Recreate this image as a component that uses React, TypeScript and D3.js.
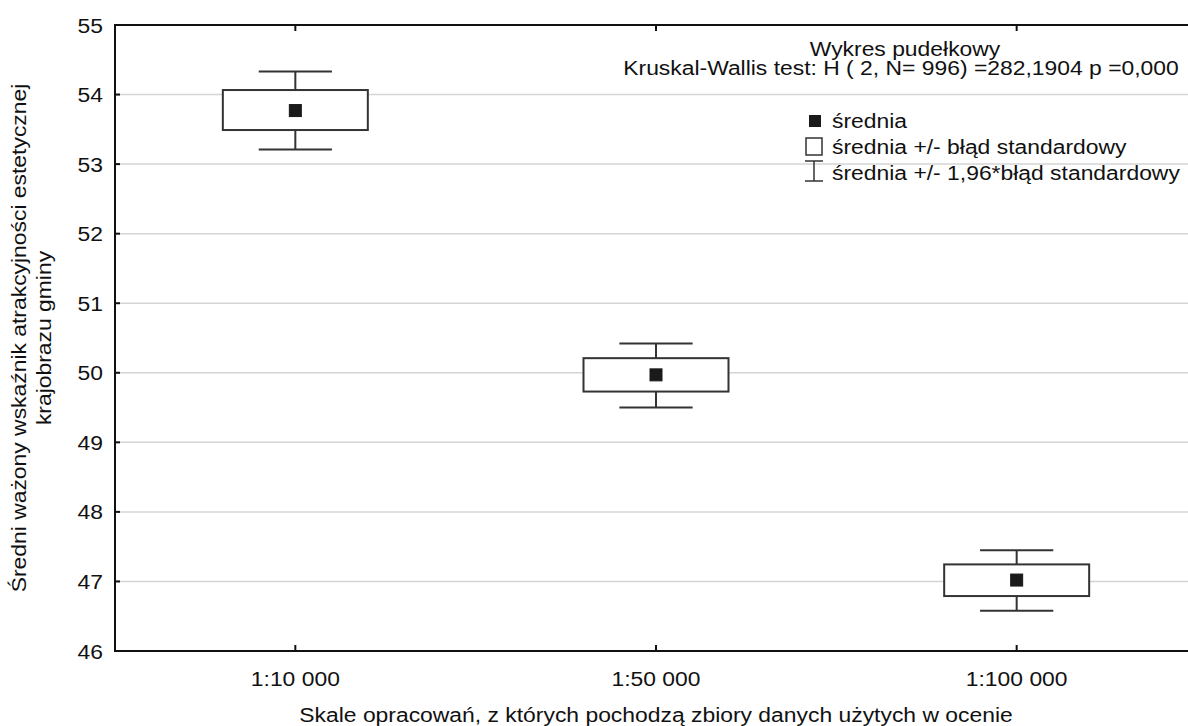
import React from "react";
import * as d3 from "d3";

const categories = ["1:10 000", "1:50 000", "1:100 000"];
const means = [53.77, 49.97, 47.02];
const seLow = [53.49, 49.73, 46.79];
const seHigh = [54.065, 50.21, 47.245];
const ciLow = [53.21, 49.5, 46.58];
const ciHigh = [54.33, 50.42, 47.45];
const yTicks = [46, 47, 48, 49, 50, 51, 52, 53, 54, 55];

const titleLines = ["Wykres pudełkowy", "Kruskal-Wallis test: H ( 2, N= 996) =282,1904 p =0,000"];
const legendItems = ["średnia", "średnia +/- błąd standardowy", "średnia +/- 1,96*błąd standardowy"];
const yTitle = ["Średni ważony wskaźnik atrakcyjności estetycznej", "krajobrazu gminy"];
const xTitle = "Skale opracowań, z których pochodzą zbiory danych użytych w ocenie";

const W = 1188;
const H = 726;
const left = 115;
const right = 1197;
const top = 25;
const bottom = 651;
const FONT = "'Liberation Sans', Arial, sans-serif";
const STROKE = "#333";
const SX = 1.09;
const FS = 21;

function T(props: { x: number; y: number; anchor?: string; children: React.ReactNode }) {
  return (
    <text
      transform={`translate(${props.x},${props.y}) scale(${SX},1)`}
      textAnchor={props.anchor || "start"}
      fontSize={FS}
      fill="#111"
    >
      {props.children}
    </text>
  );
}

export default function App() {
  const x = d3.scaleBand<string>().domain(categories).range([left, right]).padding(0);
  const y = d3.scaleLinear().domain([46, 55]).range([bottom, top]);
  const bw = x.bandwidth();
  const boxW = bw * 0.402;
  const capW = bw * 0.203;
  const cx = (c: string) => (x(c) as number) + bw / 2;

  return (
    <svg width={W} height={H} style={{ position: "absolute", left: 0, top: 0, background: "#fff" }} fontFamily={FONT}>
      <rect x={0} y={0} width={W} height={H} fill="#fff" />
      {yTicks.filter((t) => t > 46 && t < 55).map((t) => (
        <line key={"g" + t} x1={left} x2={W} y1={y(t)} y2={y(t)} stroke="#d4d4d4" strokeWidth={1.5} />
      ))}
      {categories.map((c, i) => {
        const X = cx(c);
        return (
          <g key={c} stroke={STROKE} strokeWidth={2}>
            <line x1={X} x2={X} y1={y(ciHigh[i])} y2={y(seHigh[i])} />
            <line x1={X} x2={X} y1={y(seLow[i])} y2={y(ciLow[i])} />
            <line x1={X - capW / 2} x2={X + capW / 2} y1={y(ciHigh[i])} y2={y(ciHigh[i])} />
            <line x1={X - capW / 2} x2={X + capW / 2} y1={y(ciLow[i])} y2={y(ciLow[i])} />
            <rect x={X - boxW / 2} y={y(seHigh[i])} width={boxW} height={y(seLow[i]) - y(seHigh[i])} fill="#fff" />
            <rect x={X - 6} y={y(means[i]) - 6} width={12} height={12} fill="#1a1a1a" stroke="#1a1a1a" strokeWidth={1} />
          </g>
        );
      })}
      <g stroke="#111" strokeWidth={2}>
        <line x1={left} x2={W} y1={top} y2={top} />
        <line x1={left} x2={W} y1={bottom} y2={bottom} />
        <line x1={left} x2={left} y1={top - 1} y2={bottom + 1} />
        {yTicks.map((t) => (
          <line key={"yt" + t} x1={left} x2={left + 5} y1={y(t)} y2={y(t)} />
        ))}
        {categories.map((c) => (
          <g key={"xt" + c}>
            <line x1={cx(c)} x2={cx(c)} y1={bottom} y2={bottom - 6} />
            <line x1={cx(c)} x2={cx(c)} y1={top} y2={top + 6} />
          </g>
        ))}
      </g>
      {yTicks.map((t) => (
        <T key={"yl" + t} x={103} y={y(t) + 7.5} anchor="end">{t}</T>
      ))}
      {categories.map((c) => (
        <T key={"xl" + c} x={cx(c)} y={686} anchor="middle">{c}</T>
      ))}
      <T x={905} y={55.5} anchor="middle">{titleLines[0]}</T>
      <T x={901} y={75} anchor="middle">{titleLines[1]}</T>
      <rect x={809} y={115} width={12} height={12} fill="#1a1a1a" />
      <rect x={806} y={138} width={16} height={17} fill="#fff" stroke={STROKE} strokeWidth={1.5} />
      <g stroke={STROKE} strokeWidth={1.5}>
        <line x1={805} x2={823} y1={161} y2={161} />
        <line x1={805} x2={823} y1={181} y2={181} />
        <line x1={814} x2={814} y1={161} y2={181} />
      </g>
      {legendItems.map((s, i) => (
        <T key={s} x={832} y={127.5 + i * 26}>{s}</T>
      ))}
      <g transform={`translate(0, ${(top + bottom) / 2}) rotate(-90)`}>
        <text transform={`translate(0,26) scale(${SX},1)`} textAnchor="middle" fontSize={FS} fill="#111">{yTitle[0]}</text>
        <text transform={`translate(0,51) scale(${SX},1)`} textAnchor="middle" fontSize={FS} fill="#111">{yTitle[1]}</text>
      </g>
      <T x={(left + right) / 2} y={722} anchor="middle">{xTitle}</T>
    </svg>
  );
}
